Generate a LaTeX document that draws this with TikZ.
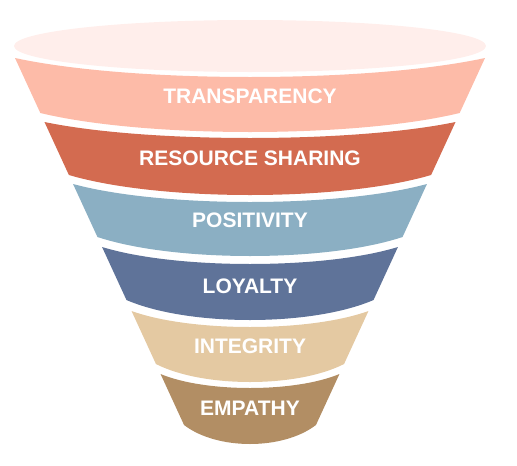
\documentclass[tikz,border=0pt]{standalone}
\usepackage{fontspec}
\setmainfont{Liberation Sans}
\definecolor{blush}{HTML}{FFEEEB}
\definecolor{salmon}{HTML}{FDBBA8}
\definecolor{rust}{HTML}{D36B50}
\definecolor{steel}{HTML}{8BAFC3}
\definecolor{navy}{HTML}{5F7399}
\definecolor{sand}{HTML}{E4C9A2}
\definecolor{tan}{HTML}{B28E64}
\begin{document}
\begin{tikzpicture}[
x=1pt, y=-1pt,
label/.style={text=white, font=\bfseries\fontsize{21}{21}\selectfont, inner sep=0pt}
]
\useasboundingbox (0,0) rectangle (517,466);
\fill[blush] (250,46) ellipse [x radius=236, y radius=26];
\foreach \yt/\yb/\st/\sb/\col/\txt/\ty [count=\i] in {
	58/113/19/19/salmon/TRANSPARENCY/96,
	122/175/16/20/rust/RESOURCE SHARING/158,
	184/237/18/19/steel/POSITIVITY/220,
	247/300/17/20/navy/LOYALTY/286,
	311/364/16/18/sand/INTEGRITY/346,
	374/425/14/19/tan/EMPATHY/408
}{
	\pgfmathsetmacro\wt{235-0.4606*(\yt-58)}
	\pgfmathsetmacro\wb{235-0.4606*(\yb-58)}
	\fill[\col] (250-\wt,\yt) -- (250-\wb,\yb)
		.. controls +(0.5*\wb,4/3*\sb) and +(-0.5*\wb,4/3*\sb) .. (250+\wb,\yb)
		-- (250+\wt,\yt)
		.. controls +(-0.5*\wt,4/3*\st) and +(0.5*\wt,4/3*\st) .. (250-\wt,\yt) -- cycle;
	\node[label] (band\i) at (250,\ty) {\txt};
}
\end{tikzpicture}
\end{document}
